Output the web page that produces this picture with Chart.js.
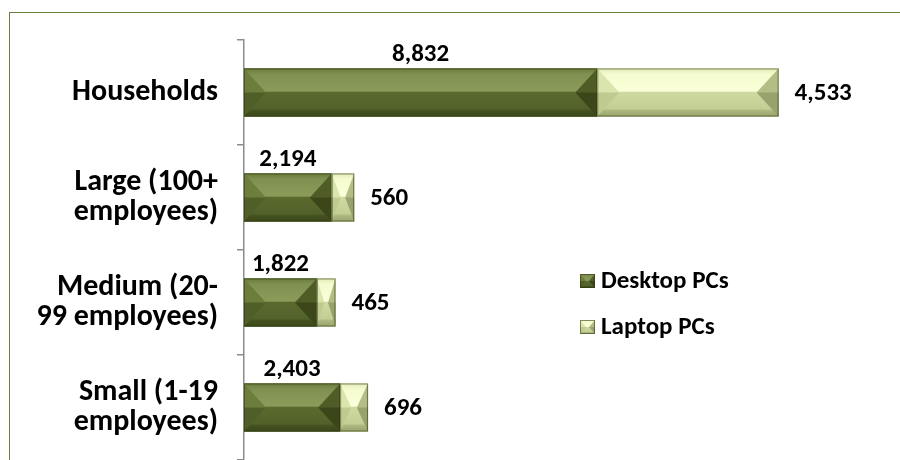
<!DOCTYPE html>
<html>
<head>
<meta charset="utf-8">
<script src="https://cdn.jsdelivr.net/npm/chart.js@4.4.1/dist/chart.umd.min.js"></script>
<style>
  body { margin: 0; background: #fff; }
  #wrap { position: relative; width: 900px; height: 460px; overflow: hidden; }
  #frame { position: absolute; left: 9px; top: 12px; width: 900px; height: 460px;
           border-left: 1.5px solid #6b7f3c; border-top: 1.5px solid #6b7f3c; pointer-events: none; }
  canvas { position: absolute; left: 0; top: 0; }
</style>
</head>
<body>
<div id="wrap">
  <canvas id="pcs" width="900" height="460"></canvas>
  <div id="frame"></div>
</div>
<script>
const categories = [
  "Households",
  ["Large (100+", "employees)"],
  ["Medium (20-", "99 employees)"],
  ["Small (1-19", "employees)"]
];
const desktopPCs = [8832, 2194, 1822, 2403];
const laptopPCs = [4533, 560, 465, 696];
const seriesNames = ["Desktop PCs", "Laptop PCs"];

const FONT = "Carlito, Lato, 'DejaVu Sans', sans-serif";

// per series: face stops, left bevel (upper, lower), right bevel (upper, lower)
const shades = [
  {
    face: ["#6b7b3b", "#7f9050", "#8a9b5a", "#5a6a2e", "#52612a", "#44511f", "#3c481b"],
    left: ["#6d7d3b", "#505e27"],
    right: ["#4f5c25", "#3b4619"],
    flat: "#5d6d31"
  },
  {
    face: ["#e2ebb8", "#f5fbcf", "#fbffd9", "#cfdaa2", "#c3ce94", "#aab57f", "#9aa56e"],
    left: ["#dae5ad", "#bfca90"],
    right: ["#b3bd86", "#98a26c"],
    flat: "#cad69e"
  }
];

const fmt = function (v) {
  return v.toLocaleString("en-US");
};

const vGrad = function (ctx, top, h, stops, pos) {
  const g = ctx.createLinearGradient(0, top, 0, top + h);
  stops.forEach(function (c, k) {
    g.addColorStop(pos[k], c);
  });
  return g;
};

const paintBevel = function (ctx, left, top, w, h, sh) {
  const right = left + w, bottom = top + h, mid = top + h / 2;
  ctx.fillStyle = vGrad(ctx, top, h, sh.face, [0, 0.12, 0.47, 0.5, 0.84, 0.88, 1]);
  ctx.fillRect(left, top, w, h);

  const bx = Math.min(22, w * 0.4);
  // left triangle
  ctx.fillStyle = vGrad(ctx, top, h, [sh.left[0], sh.left[0], sh.left[1], sh.left[1]], [0, 0.49, 0.51, 1]);
  ctx.beginPath();
  ctx.moveTo(left, top); ctx.lineTo(left + bx, mid); ctx.lineTo(left, bottom);
  ctx.closePath(); ctx.fill();
  // right triangle
  ctx.fillStyle = vGrad(ctx, top, h, [sh.right[0], sh.right[0], sh.right[1], sh.right[1]], [0, 0.49, 0.51, 1]);
  ctx.beginPath();
  ctx.moveTo(right, top); ctx.lineTo(right - bx, mid); ctx.lineTo(right, bottom);
  ctx.closePath(); ctx.fill();

  ctx.strokeStyle = "rgba(45,55,18,0.55)";
  ctx.lineWidth = 1;
  ctx.strokeRect(left + 0.5, top + 0.5, w - 1, h - 1);
};

// beveled look drawn over the bars the library placed
const bevelPlugin = {
  id: "bevel",
  afterDatasetsDraw(chart) {
    const ctx = chart.ctx;
    ctx.save();
    chart.data.datasets.forEach(function (ds, i) {
      chart.getDatasetMeta(i).data.forEach(function (bar) {
        const p = bar.getProps(["x", "y", "base", "height"], true);
        const left = Math.min(p.x, p.base);
        const w = Math.abs(p.x - p.base);
        paintBevel(ctx, left, p.y - p.height / 2, w, p.height, shades[i]);
      });
    });
    ctx.restore();
  }
};

// value labels: desktop above its segment, laptop right of the bar
const valuePlugin = {
  id: "values",
  afterDatasetsDraw(chart) {
    const ctx = chart.ctx;
    ctx.save();
    ctx.font = "bold 25px " + FONT;
    ctx.fillStyle = "#000";
    chart.data.datasets.forEach(function (ds, i) {
      chart.getDatasetMeta(i).data.forEach(function (bar, j) {
        const p = bar.getProps(["x", "y", "base", "height"], true);
        if (i === 0) {
          ctx.textAlign = "center";
          ctx.textBaseline = "alphabetic";
          ctx.fillText(fmt(ds.data[j]), (p.x + p.base) / 2, p.y - p.height / 2 - 8);
        } else {
          ctx.textAlign = "left";
          ctx.textBaseline = "middle";
          ctx.fillText(fmt(ds.data[j]), p.x + 16, p.y + 1);
        }
      });
    });
    ctx.restore();
  }
};

// legend sitting inside the plot, to the right of the short bars
const legendPlugin = {
  id: "sideLegend",
  afterDraw(chart) {
    const ctx = chart.ctx;
    const a = chart.chartArea;
    ctx.save();
    ctx.font = "bold 25px " + FONT;
    ctx.textAlign = "left";
    ctx.textBaseline = "middle";
    chart.data.datasets.forEach(function (ds, i) {
      const x = a.left + 336;
      const y = a.top + 241 + i * 46;
      paintBevel(ctx, x, y - 7, 15, 14, shades[i]);
      ctx.fillStyle = "#000";
      ctx.fillText(ds.label, x + 21, y + 1);
    });
    ctx.restore();
  }
};

const ctx = document.getElementById("pcs").getContext("2d");
const data = {
  labels: categories,
  datasets: [
    {
      label: seriesNames[0],
      data: desktopPCs,
      backgroundColor: shades[0].flat,
      borderWidth: 0,
      barThickness: 48
    },
    {
      label: seriesNames[1],
      data: laptopPCs,
      backgroundColor: shades[1].flat,
      borderWidth: 0,
      barThickness: 48
    }
  ]
};
const config = {
  type: "bar",
  data: data,
  options: {
    indexAxis: "y",
    responsive: false,
    animation: false,
    layout: { padding: { top: 40, right: 16, bottom: 0, left: 0 } },
    plugins: {
      legend: { display: false },
      tooltip: { enabled: false }
    },
    scales: {
      x: {
        stacked: true,
        display: false,
        min: 0,
        max: 16000
      },
      y: {
        stacked: true,
        afterFit(scale) {
          scale.width = 244;
          scale.paddingTop = 0;
          scale.paddingBottom = 0;
        },
        border: { display: true, color: "#8c8c8c", width: 1.5 },
        grid: {
          offset: true,
          drawOnChartArea: false,
          drawTicks: true,
          tickLength: 7,
          color: "#8c8c8c",
          lineWidth: 1.5
        },
        ticks: {
          color: "#000",
          padding: 19,
          font: { family: FONT, size: 30, weight: "bold", lineHeight: 0.97 }
        }
      }
    }
  },
  plugins: [bevelPlugin, valuePlugin, legendPlugin]
};

const chart_1 = new Chart(ctx, config);
</script>
</body>
</html>
